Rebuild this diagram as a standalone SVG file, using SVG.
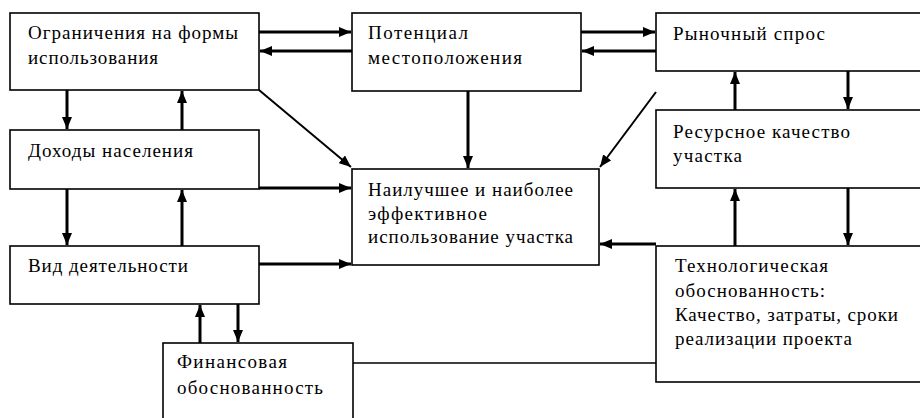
<svg xmlns="http://www.w3.org/2000/svg" width="920" height="418" viewBox="0 0 920 418">
<style>
.box{fill:#fff;stroke:#000;stroke-width:1.6}
.t{font-family:"Liberation Serif","Times New Roman",serif;font-size:19px;fill:#000}
.a{stroke:#000;stroke-width:3;fill:none;marker-end:url(#ah)}
.d{stroke:#000;stroke-width:2;fill:none;marker-end:url(#ah)}
.l{stroke:#000;stroke-width:1.6;fill:none}
</style>
<defs>
<marker id="ah" markerUnits="userSpaceOnUse" markerWidth="13" markerHeight="10" refX="12" refY="5" orient="auto">
<path d="M0,0 L12,5 L0,10 Z" fill="#000"/>
</marker>
</defs>
<rect width="920" height="418" fill="#fff"/>
<g id="n1"><rect class="box" x="10" y="13" width="249" height="77"/>
<text class="t" x="28" y="39" textLength="210" lengthAdjust="spacing">Ограничения на формы</text>
<text class="t" x="28" y="64" textLength="130" lengthAdjust="spacing">использования</text></g>
<g id="n2"><rect class="box" x="352" y="13" width="229" height="78"/>
<text class="t" x="368" y="39" textLength="100" lengthAdjust="spacing">Потенциал</text>
<text class="t" x="368" y="64" textLength="154" lengthAdjust="spacing">местоположения</text></g>
<g id="n3"><rect class="box" x="656" y="13" width="270" height="58"/>
<text class="t" x="673" y="40" textLength="152" lengthAdjust="spacing">Рыночный спрос</text></g>
<g id="n4"><rect class="box" x="656" y="110" width="270" height="78"/>
<text class="t" x="673" y="138" textLength="177" lengthAdjust="spacing">Ресурсное качество</text>
<text class="t" x="673" y="162" textLength="69" lengthAdjust="spacing">участка</text></g>
<g id="n5"><rect class="box" x="10" y="130" width="249" height="59"/>
<text class="t" x="28" y="157" textLength="165" lengthAdjust="spacing">Доходы населения</text></g>
<g id="n6"><rect class="box" x="10" y="246" width="249" height="58"/>
<text class="t" x="28" y="272" textLength="160" lengthAdjust="spacing">Вид деятельности</text></g>
<g id="n7"><rect class="box" x="352" y="169" width="247" height="96"/>
<text class="t" x="368" y="196" textLength="205" lengthAdjust="spacing">Наилучшее и наиболее</text>
<text class="t" x="368" y="220" textLength="119" lengthAdjust="spacing">эффективное</text>
<text class="t" x="368" y="243" textLength="205" lengthAdjust="spacing">использование участка</text></g>
<g id="n8"><rect class="box" x="656" y="246" width="270" height="136"/>
<text class="t" x="675" y="272" textLength="153" lengthAdjust="spacing">Технологическая</text>
<text class="t" x="675" y="297" textLength="150" lengthAdjust="spacing">обоснованность:</text>
<text class="t" x="675" y="321" textLength="223" lengthAdjust="spacing">Качество, затраты, сроки</text>
<text class="t" x="675" y="345" textLength="177" lengthAdjust="spacing">реализации проекта</text></g>
<g id="n9"><rect class="box" x="163" y="343" width="190" height="80"/>
<text class="t" x="177" y="368" textLength="110" lengthAdjust="spacing">Финансовая</text>
<text class="t" x="177" y="394" textLength="146" lengthAdjust="spacing">обоснованность</text></g>
<g id="connectors">
<line class="a" x1="259" y1="32" x2="351" y2="32"/>
<line class="a" x1="352" y1="51" x2="260" y2="51"/>
<line class="a" x1="581" y1="32" x2="655" y2="32"/>
<line class="a" x1="656" y1="51" x2="582" y2="51"/>
<line class="a" x1="67" y1="90" x2="67" y2="129"/>
<line class="a" x1="182" y1="130" x2="182" y2="91"/>
<line class="a" x1="67" y1="189" x2="67" y2="245"/>
<line class="a" x1="182" y1="246" x2="182" y2="190"/>
<line class="a" x1="200" y1="343" x2="200" y2="305"/>
<line class="a" x1="238" y1="304" x2="238" y2="342"/>
<line class="a" x1="735" y1="110" x2="735" y2="72"/>
<line class="a" x1="848" y1="71" x2="848" y2="109"/>
<line class="a" x1="735" y1="246" x2="735" y2="189"/>
<line class="a" x1="848" y1="188" x2="848" y2="245"/>
<line class="a" x1="468" y1="91" x2="468" y2="168"/>
<line class="d" x1="259" y1="90" x2="351" y2="167"/>
<line class="d" x1="656" y1="92" x2="600" y2="167"/>
<line class="a" x1="259" y1="188" x2="351" y2="188"/>
<line class="a" x1="259" y1="264" x2="351" y2="264"/>
<line class="a" x1="656" y1="244" x2="600" y2="244"/>
<line class="l" x1="353" y1="363" x2="656" y2="363"/>
</g>
</svg>
